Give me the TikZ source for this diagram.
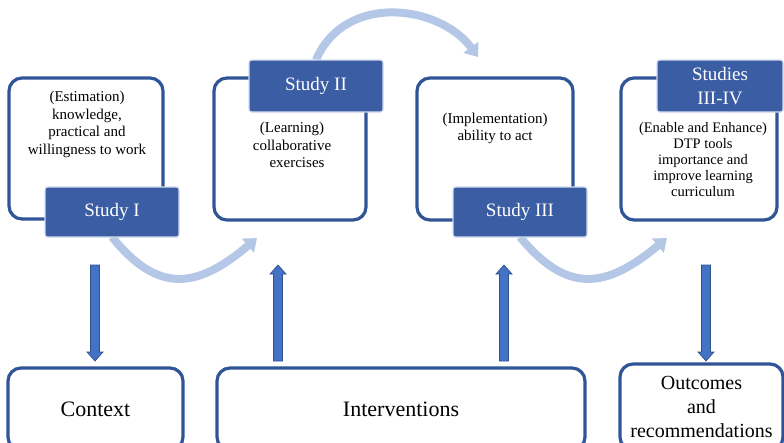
\documentclass[tikz,border=0pt]{standalone}
\usepackage{fontspec}
\setmainfont{Liberation Serif}
\usetikzlibrary{arrows.meta,calc}

\definecolor{frameblue}{RGB}{47,85,151}
\definecolor{tagblue}{RGB}{58,93,163}
\definecolor{tagedge}{RGB}{210,220,238}
\definecolor{flowblue}{RGB}{180,199,231}
\definecolor{blockfill}{RGB}{68,114,196}
\definecolor{blockedge}{RGB}{47,82,143}

\tikzset{
  framebox/.style={draw=frameblue, line width=3.2pt, rounded corners=13pt, inner sep=0pt},
  tagbox/.style={fill=tagblue, draw=tagedge, line width=1.2pt, rounded corners=2.5pt,
    text=white, font=\fontsize{19}{24}\selectfont, align=center, inner sep=0pt},
  note/.style={font=\fontsize{15}{17.5}\selectfont, align=center, inner sep=0pt},
  basebox/.style={framebox, font=\fontsize{22}{26}\selectfont, align=center},
  flow/.style={draw=flowblue, line width=8pt, -{Triangle[width=18pt,length=12pt]}},
  blk/.style={fill=blockfill, draw=blockedge, line width=0.7pt},
}

% vertical block arrow: #1 tail, #2 tip, #3 = 1 (pointing down) or -1 (pointing up)
\newcommand\blkarrow[3]{%
  \filldraw[blk] let \p1=(#1), \p2=(#2) in
    ({\x1-4.5pt},{\y1}) -- ({\x1+4.5pt},{\y1}) -- ({\x1+4.5pt},{\y2+(#3)*9pt})
    -- ({\x1+8pt},{\y2+(#3)*9pt}) -- ({\x1},{\y2}) -- ({\x1-8pt},{\y2+(#3)*9pt})
    -- ({\x1-4.5pt},{\y2+(#3)*9pt}) -- cycle;}

\begin{document}
\begin{tikzpicture}[x=1pt, y=-1pt]
\useasboundingbox (0,0) rectangle (784,442);
\clip (0,0) rectangle (784,442);

% study frames
\node[framebox, minimum width=154pt, minimum height=141pt] (b1) at (86,148.5) {};
\node[framebox, minimum width=152pt, minimum height=142pt] (b2) at (290,149) {};
\node[framebox, minimum width=156pt, minimum height=142pt] (b3) at (495,149) {};
\node[framebox, minimum width=156pt, minimum height=142pt] (b4) at (699,149) {};

% cycle of studies (light arcs)
\coordinate (c1) at (257,238);
\coordinate (c2) at (478,57);
\coordinate (c3) at (667,238);
\draw[flow] (112,237) .. controls (158,294) and (197,289) .. (c1);
\draw[flow] (316,60) .. controls (345,-8) and (440,5) .. (c2);
\draw[flow] (520,237) .. controls (567,294) and (606,289) .. (c3);

% study tags
\node[tagbox, minimum width=134pt, minimum height=50pt] (s1) at (112,212) {Study I};
\node[tagbox, minimum width=134pt, minimum height=52pt] (s2) at (316,86) {Study II};
\node[tagbox, minimum width=134pt, minimum height=50pt] (s3) at (520,212) {Study III};
\node[tagbox, minimum width=126pt, minimum height=52pt] (s4) at (720,86) {Studies\\III-IV};

% frame texts
\node[note] (t1) at (87,124.5) {(Estimation)\\knowledge,\\practical and\\willingness to work};
\node[note] (t2) at (292,145) {(Learning)\\collaborative\\\hspace*{10pt}exercises};
\node[note] (t3) at (495,128.5) {(Implementation)\\ability to act};
\node[note, font=\fontsize{14.5}{16}\selectfont] (t4) at (703,159.5)
  {(Enable and Enhance)\\DTP tools\hspace*{12pt}\\importance and\\improve learning\\curriculum};

% bottom boxes
\node[basebox, minimum width=175pt, minimum height=82pt] (ctx) at (95.5,409) {Context};
\node[basebox, minimum width=368pt, minimum height=82pt] (intv) at (401,409) {Interventions};
\node[basebox, minimum width=163pt, minimum height=86pt, font=\fontsize{20}{24}\selectfont]
  (outc) at (701.5,407) {Outcomes\\and\\recommendations};

% block arrows between rows
\coordinate (a1) at (95,265);  \coordinate (a1t) at (95,361);
\coordinate (a2) at (278,361); \coordinate (a2t) at (278,265);
\coordinate (a3) at (504,361); \coordinate (a3t) at (504,265);
\coordinate (a4) at (706,265); \coordinate (a4t) at (706,361);
\blkarrow{a1}{a1t}{1}
\blkarrow{a2}{a2t}{-1}
\blkarrow{a3}{a3t}{-1}
\blkarrow{a4}{a4t}{1}
\end{tikzpicture}
\end{document}
